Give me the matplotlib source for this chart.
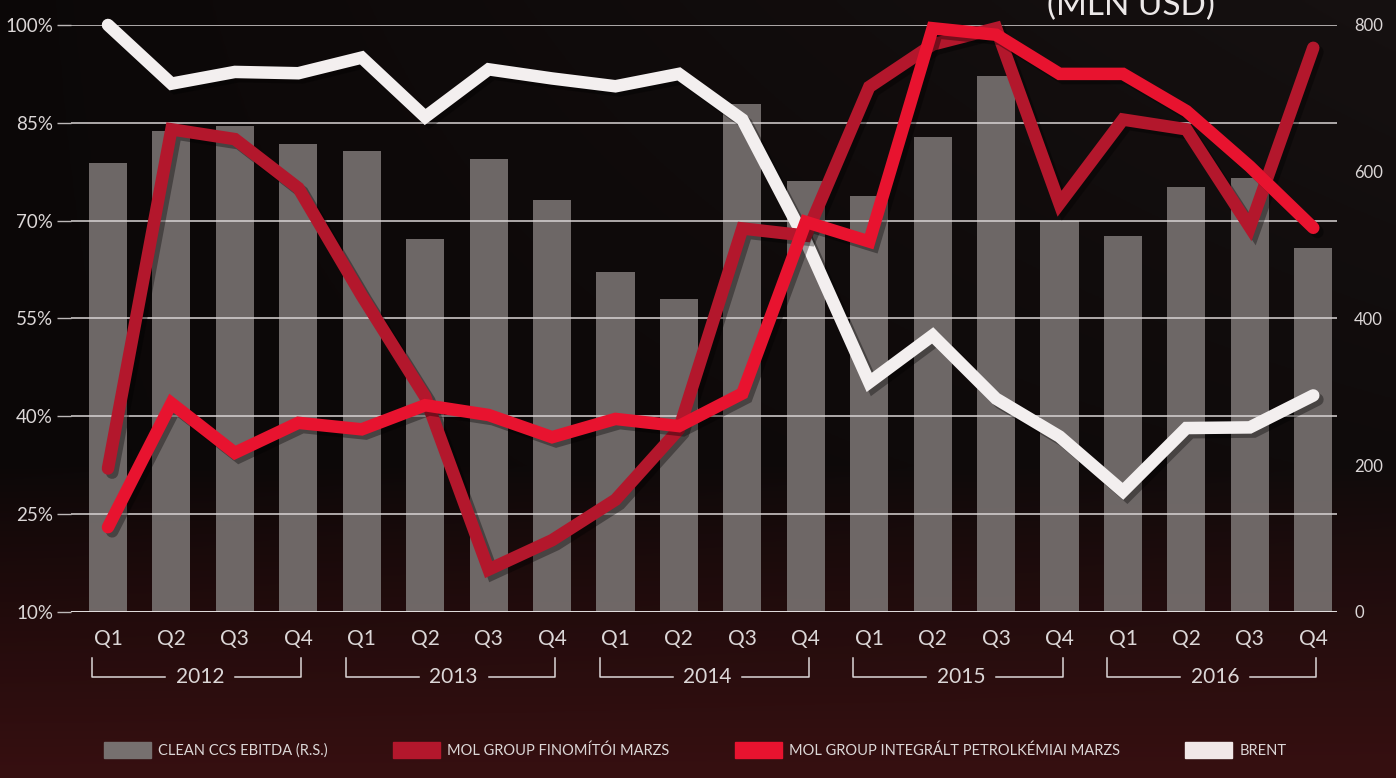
# MOL: finomítói / petrolkémiai marzs, Brent és Clean CCS EBITDA negyedévente
import numpy as np
import matplotlib.pyplot as plt
from matplotlib.patches import Patch
import matplotlib.patheffects as pe

plt.rcParams['font.family'] = ['Lato', 'DejaVu Sans']

# Data
quarters = ['Q1', 'Q2', 'Q3', 'Q4'] * 5
years = ['2012', '2013', '2014', '2015', '2016']
ebitda = [612, 655, 662, 638, 628, 508, 617, 561, 464, 426,
          692, 588, 567, 648, 730, 533, 512, 579, 591, 496]
finomitoi = [32, 84, 82.5, 75, 58.5, 43, 16.5, 21, 27.2, 38,
             68.8, 67.7, 90.5, 97, 99.5, 72.6, 85.5, 84, 69, 96.5]
petrolkemiai = [23, 42, 34.4, 39, 38, 41.7, 40.2, 36.8, 39.6, 38.5,
                43.5, 69.8, 66.8, 99.5, 98.5, 92.5, 92.5, 86.8, 78.3, 68.9]
brent = [100, 91, 92.8, 92.6, 95, 85.9, 93.2, 91.8, 90.6, 92.5,
         85.5, 66.9, 45.2, 52.4, 42.7, 36.9, 28.5, 38.2, 38.3, 43.2]
left_ticks = [10, 25, 40, 55, 70, 85, 100]
right_ticks = [0, 200, 400, 600, 800]

txt = '#dcd7d7'
c_bar = '#76706f'
c_fin = '#b3172c'
c_pet = '#e8132f'
c_brent = '#f3efef'

fig = plt.figure(figsize=(13.96, 7.78), dpi=100)
fig.patch.set_facecolor('#0c0909')

# background gradient (dark at top, reddish towards the bottom)
bg = fig.add_axes([0, 0, 1, 1], zorder=-10)
yy = np.linspace(0, 1, 300)[:, None]
xx = np.linspace(0, 1, 400)[None, :]
low = np.clip((yy - 0.6) / 0.4, 0, 1)
red = 0.045 + 0.17 * low ** 0.9 + 0.04 * xx * (1 - yy)
green = 0.03 + 0.03 * low + 0.035 * xx * (1 - yy)
blue = 0.03 + 0.035 * low + 0.035 * xx * (1 - yy)
img = np.dstack([red + 0 * xx, green + 0 * xx, blue + 0 * xx])
bg.imshow(np.clip(img, 0, 1), aspect='auto', extent=[0, 1, 1, 0])
bg.set_xlim(0, 1)
bg.set_ylim(1, 0)
bg.axis('off')

ax = fig.add_axes([0.051, 0.2134, 0.907, 0.7545])
ax2 = ax.twinx()
ax.set_zorder(ax2.get_zorder() + 1)
ax.patch.set_visible(False)
ax2.patch.set_visible(False)

x = np.arange(len(quarters))

# bars on right axis
ax2.bar(x, ebitda, width=0.6, color=c_bar, alpha=0.92, zorder=1)
ax2.set_ylim(0, 800)
ax2.set_yticks(right_ticks)
ax2.tick_params(axis='y', length=0, pad=12, labelsize=12, labelcolor=txt)

# lines on left axis
shadow = [pe.SimpleLineShadow(offset=(3, -3), alpha=0.35, shadow_color='black'), pe.Normal()]
ax.plot(x, brent, color=c_brent, lw=9, solid_joinstyle='miter', solid_capstyle='round',
        clip_on=False, zorder=3, path_effects=shadow)
ax.plot(x, finomitoi, color=c_fin, lw=9, solid_joinstyle='miter', solid_capstyle='round',
        clip_on=False, zorder=4, path_effects=shadow)
ax.plot(x, petrolkemiai, color=c_pet, lw=9, solid_joinstyle='miter', solid_capstyle='round',
        clip_on=False, zorder=5, path_effects=shadow)

ax.set_ylim(10, 100)
ax.set_yticks(left_ticks)
ax.set_yticklabels([f'{v}%' for v in left_ticks])
ax.set_xlim(-0.58, 19.38)
ax.set_xticks(x)
ax.set_xticklabels(quarters)
ax.tick_params(axis='y', length=10, width=1, color='#bdb8b8', pad=3, labelsize=13.5, labelcolor=txt)
ax.tick_params(axis='x', length=0, pad=12, labelsize=15, labelcolor=txt)
ax.grid(axis='y', color='#d9d4d4', lw=1.1)
ax.set_axisbelow(True)
for a in (ax, ax2):
    for s in a.spines.values():
        s.set_visible(False)
ax.axhline(10, color='#e6e1e1', lw=2, zorder=2)

# year brackets under the quarter labels
tr = ax.get_xaxis_transform()
for i, yr in enumerate(years):
    x0, x1 = 4 * i - 0.25, 4 * i + 3.05
    xc = 4 * i + 1.45
    ax.plot([x0, x0, xc - 0.55], [-0.078, -0.11, -0.11], transform=tr, color=txt, lw=1.1, clip_on=False)
    ax.plot([xc + 0.55, x1, x1], [-0.11, -0.11, -0.078], transform=tr, color=txt, lw=1.1, clip_on=False)
    ax.text(xc, -0.11, yr, transform=tr, ha='center', va='center', fontsize=15, color=txt)

# legend
handles = [Patch(color=c_bar), Patch(color=c_fin), Patch(color=c_pet), Patch(color='#f1e8e8')]
labels = ['CLEAN CCS EBITDA (R.S.)', 'MOL GROUP FINOMÍTÓI MARZS',
          'MOL GROUP INTEGRÁLT PETROLKÉMIAI MARZS', 'BRENT']
leg = fig.legend(handles, labels, ncol=4, loc='center left', bbox_to_anchor=(0.065, 0.036),
                 frameon=False, fontsize=10.5, handlelength=3.2, handleheight=1.3,
                 columnspacing=4.5, handletextpad=0.5)
for t in leg.get_texts():
    t.set_color(txt)

# title, only its lower part shows at the top edge as in the source image
fig.text(0.81, 0.993, '(MLN USD)', ha='center', va='center', fontsize=24, color='#ece8e8')

fig.savefig('out.png', dpi=100, facecolor=fig.get_facecolor())
